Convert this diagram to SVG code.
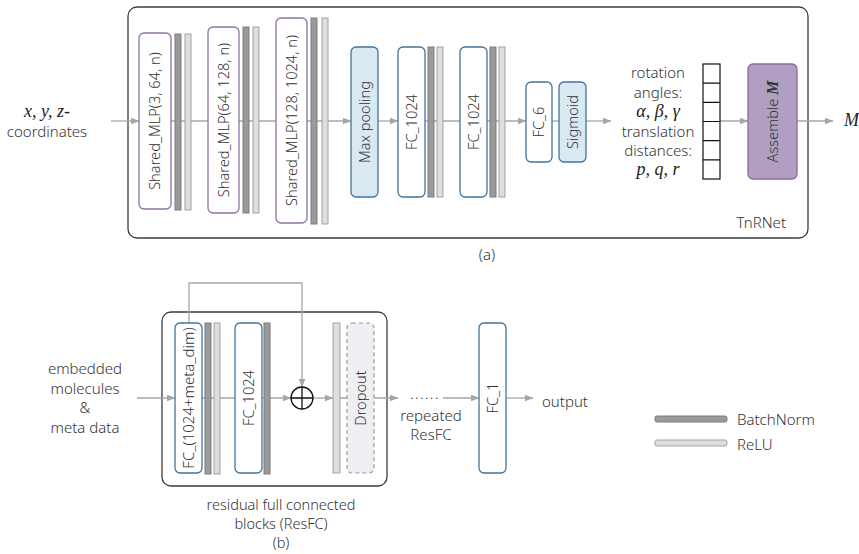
<svg xmlns="http://www.w3.org/2000/svg" width="859" height="554" viewBox="0 0 859 554">
  <style>
    .txt { font-family: "Noto Sans", "Liberation Sans", sans-serif; font-size: 15px; font-weight: 300; fill: #333333; }
    .rot { font-size: 14.6px; }
    .mid { text-anchor: middle; }
    .cap { font-size: 14.5px; }
    .math { font-family: "Liberation Serif", "DejaVu Serif", serif; font-style: italic; font-size: 18px; fill: #222; }
    .frame { fill: #ffffff; stroke: #3c3c3c; stroke-width: 1.3; }
    .mlp { fill: #ffffff; stroke: #8e72a6; stroke-width: 1.3; }
    .fc { fill: #ffffff; stroke: #3f76a0; stroke-width: 1.3; }
    .fcfill { fill: #dae8f2; stroke: #3f76a0; stroke-width: 1.3; }
    .bn { fill: #9a9a9a; stroke: #7c7c7c; stroke-width: 1; }
    .relu { fill: #dedede; stroke: #a2a2a2; stroke-width: 1; }
    .asm { fill: #b19fc1; stroke: #8a6a9e; stroke-width: 1.3; }
    .drop { fill: #efeff3; stroke: #9a9a9a; stroke-width: 1.2; stroke-dasharray: 4 3; }
    .vec { fill: #ffffff; stroke: #111; stroke-width: 1.2; }
    .link { fill: none; stroke: #a6a6a6; stroke-width: 1.3; }
    .arr { marker-end: url(#head); }
  </style>
  <defs>
    <marker id="head" markerUnits="userSpaceOnUse" markerWidth="9" markerHeight="8" refX="8.5" refY="3.5" orient="auto">
      <path d="M0,0 L9,3.5 L0,7 z" fill="#a6a6a6"/>
    </marker>
  </defs>

  <!-- panel frames -->
  <g id="tnrnet-frame">
    <rect class="frame" x="128" y="7" width="680" height="231" rx="9"/>
    <text class="txt" x="786" y="228" text-anchor="end">TnRNet</text>
  </g>
  <g id="resfc-frame">
    <rect class="frame" x="162" y="312" width="225" height="174" rx="9"/>
  </g>

  <!-- connectors -->
  <g id="connectors">
    <line class="link arr" x1="111" y1="121" x2="139" y2="121"/>
    <line class="link arr" x1="171" y1="121" x2="351" y2="121"/>
    <line class="link arr" x1="378" y1="121" x2="398" y2="121"/>
    <line class="link" x1="425" y1="121" x2="460" y2="121"/>
    <line class="link arr" x1="487" y1="121" x2="526" y2="121"/>
    <line class="link" x1="552" y1="121" x2="559" y2="121"/>
    <line class="link arr" x1="586" y1="121" x2="611" y2="121"/>
    <line class="link arr" x1="710" y1="121" x2="748" y2="121"/>
    <line class="link arr" x1="797" y1="121" x2="833" y2="121"/>

    <line class="link arr" x1="137" y1="398" x2="175" y2="398"/>
    <line class="link arr" x1="202" y1="398" x2="291" y2="398"/>
    <line class="link arr" x1="313" y1="398" x2="333" y2="398"/>
    <line class="link arr" x1="340" y1="398" x2="398" y2="398"/>
    <line class="link arr" x1="443" y1="398" x2="479" y2="398"/>
    <line class="link arr" x1="506" y1="398" x2="533" y2="398"/>
    <polyline class="link arr" points="189,323 189,283 302,283 302,387"/>
  </g>

  <!-- (a) TnRNet -->
  <g id="input-coords">
    <text class="math mid" x="47" y="117">x, y, z-</text>
    <text class="txt mid" x="47" y="136.5">coordinates</text>
  </g>

  <g id="mlp1">
    <rect class="mlp" x="139" y="33" width="32" height="176" rx="5"/>
    <rect class="bn" x="175" y="34" width="6" height="176"/>
    <rect class="relu" x="185" y="34" width="6" height="176"/>
    <text class="txt rot mid" transform="translate(155,121) rotate(-90)" dy="0.36em">Shared_MLP(3, 64, n)</text>
  </g>
  <g id="mlp2">
    <rect class="mlp" x="208" y="27" width="31" height="186" rx="5"/>
    <rect class="bn" x="243" y="27" width="6" height="186"/>
    <rect class="relu" x="253" y="27" width="6" height="186"/>
    <text class="txt rot mid" transform="translate(223.5,120) rotate(-90)" dy="0.36em">Shared_MLP(64, 128, n)</text>
  </g>
  <g id="mlp3">
    <rect class="mlp" x="276" y="18" width="31" height="205" rx="5"/>
    <rect class="bn" x="311" y="18" width="6" height="206"/>
    <rect class="relu" x="322" y="18" width="6" height="206"/>
    <text class="txt rot mid" transform="translate(291.5,120.5) rotate(-90)" dy="0.36em">Shared_MLP(128, 1024, n)</text>
  </g>
  <g id="maxpool">
    <rect class="fcfill" x="351" y="47" width="27" height="150" rx="5"/>
    <text class="txt rot mid" transform="translate(364.5,122) rotate(-90)" dy="0.36em">Max pooling</text>
  </g>
  <g id="fc1024-a">
    <rect class="fc" x="398" y="47" width="27" height="150" rx="5"/>
    <rect class="bn" x="428" y="47" width="6" height="150"/>
    <rect class="relu" x="437" y="47" width="6" height="150"/>
    <text class="txt rot mid" transform="translate(411.5,122) rotate(-90)" dy="0.36em">FC_1024</text>
  </g>
  <g id="fc1024-b">
    <rect class="fc" x="460" y="47" width="27" height="150" rx="5"/>
    <rect class="bn" x="490" y="47" width="6" height="150"/>
    <rect class="relu" x="499" y="47" width="6" height="150"/>
    <text class="txt rot mid" transform="translate(473.5,122) rotate(-90)" dy="0.36em">FC_1024</text>
  </g>
  <g id="fc6">
    <rect class="fc" x="526" y="82" width="26" height="80" rx="5"/>
    <text class="txt rot mid" transform="translate(539,122) rotate(-90)" dy="0.36em">FC_6</text>
  </g>
  <g id="sigmoid">
    <rect class="fcfill" x="559" y="82" width="27" height="80" rx="5"/>
    <text class="txt rot mid" transform="translate(572.5,122) rotate(-90)" dy="0.36em">Sigmoid</text>
  </g>
  <g id="params-label">
    <text class="txt mid" x="658" y="78">rotation</text>
    <text class="txt mid" x="658" y="97.5">angles:</text>
    <text class="math mid" x="658" y="117" font-size="17">α, β, γ</text>
    <text class="txt mid" x="658" y="136.5">translation</text>
    <text class="txt mid" x="658" y="156">distances:</text>
    <text class="math mid" x="658" y="174.5" font-size="17">p, q, r</text>
  </g>
  <g id="param-vector">
    <rect class="vec" x="703" y="64" width="17" height="115"/>
    <path class="vec" d="M703,83.2 H720 M703,102.3 H720 M703,121.5 H720 M703,140.7 H720 M703,159.8 H720"/>
  </g>
  <g id="assemble">
    <rect class="asm" x="748" y="64" width="49" height="115" rx="5"/>
    <text class="txt rot mid" transform="translate(772.5,121.5) rotate(-90)" dy="0.36em">Assemble <tspan font-family="Liberation Serif, serif" font-style="italic" font-weight="bold" font-size="16">M</tspan></text>
  </g>
  <g id="output-m">
    <text class="math" x="844" y="126">M</text>
  </g>
  <text class="txt mid" x="487" y="260">(a)</text>

  <!-- (b) ResFC network -->
  <g id="input-mol">
    <text class="txt mid" x="85" y="374">embedded</text>
    <text class="txt mid" x="85" y="394">molecules</text>
    <text class="txt mid" x="85" y="413">&amp;</text>
    <text class="txt mid" x="85" y="433">meta data</text>
  </g>
  <g id="fc-meta">
    <rect class="fc" x="175" y="323" width="27" height="150" rx="5"/>
    <rect class="bn" x="205" y="323" width="6" height="151"/>
    <rect class="relu" x="214" y="323" width="6" height="151"/>
    <text class="txt mid" transform="translate(188.5,398) rotate(-90)" dy="0.36em" font-size="13">FC_(1024+meta_dim)</text>
  </g>
  <g id="fc1024-c">
    <rect class="fc" x="235" y="323" width="27" height="150" rx="5"/>
    <rect class="bn" x="264" y="323" width="6" height="151"/>
    <text class="txt rot mid" transform="translate(248.5,398) rotate(-90)" dy="0.36em">FC_1024</text>
  </g>
  <g id="add">
    <circle cx="302" cy="398" r="11" fill="#ffffff" stroke="#111" stroke-width="1.3"/>
    <path d="M291,398 H313 M302,387 V409" stroke="#111" stroke-width="1.3"/>
  </g>
  <g id="relu-res">
    <rect class="relu" x="333" y="323" width="7" height="150"/>
  </g>
  <g id="dropout">
    <rect class="drop" x="347" y="323" width="27" height="150" rx="5"/>
    <text class="txt rot mid" transform="translate(360.5,398) rotate(-90)" dy="0.36em">Dropout</text>
  </g>
  <g id="repeat">
    <text class="txt" x="410" y="399" letter-spacing="1.3">......</text>
    <text class="txt mid" x="431" y="421">repeated</text>
    <text class="txt mid" x="431" y="440">ResFC</text>
  </g>
  <g id="fc1">
    <rect class="fc" x="479" y="323" width="27" height="150" rx="5"/>
    <text class="txt rot mid" transform="translate(492.5,398) rotate(-90)" dy="0.36em">FC_1</text>
  </g>
  <g id="output">
    <text class="txt" x="542" y="407">output</text>
  </g>
  <g id="resfc-caption">
    <text class="txt cap mid" x="281" y="509.5">residual full connected</text>
    <text class="txt cap mid" x="281" y="528.5">blocks (ResFC)</text>
    <text class="txt cap mid" x="281" y="548">(b)</text>
  </g>

  <!-- legend -->
  <g id="legend">
    <rect class="bn" x="655" y="416" width="72" height="6" rx="2"/>
    <text class="txt" x="737" y="425">BatchNorm</text>
    <rect class="relu" x="655" y="440" width="72" height="6" rx="2"/>
    <text class="txt" x="737" y="450">ReLU</text>
  </g>
</svg>
